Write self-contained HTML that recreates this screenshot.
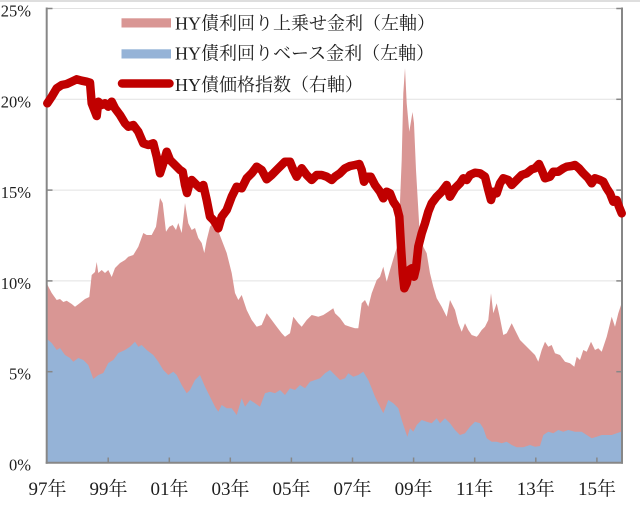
<!DOCTYPE html>
<html>
<head>
<meta charset="utf-8">
<style>
html,body{margin:0;padding:0;background:#fff;}
svg{display:block;}
.lbl{font-family:"Liberation Serif","Noto Serif CJK SC",serif;fill:#1e1e1e;}
</style>
</head>
<body>
<svg width="640" height="507" viewBox="0 0 640 507" xmlns="http://www.w3.org/2000/svg">
<rect x="0" y="0" width="640" height="507" fill="#fff"/>
<line x1="0" y1="1" x2="640" y2="1" stroke="#d4d4d4" stroke-width="1.5"/>
<g stroke="#e2e2e2" stroke-width="1">
<line x1="47" y1="8.5" x2="622" y2="8.5"/>
<line x1="47" y1="99.3" x2="622" y2="99.3"/>
<line x1="47" y1="190.1" x2="622" y2="190.1"/>
<line x1="47" y1="280.9" x2="622" y2="280.9"/>
<line x1="47" y1="371.7" x2="622" y2="371.7"/>
</g>
<polygon fill="#d99694" points="47,462.5 47,284 51.7,293 56.7,300 60,299 63.3,302 66.7,300.7 71.7,304 75,306.7 80,303 85,299 89.3,297 91.7,275 95,272 96.7,262 98.3,273 101.7,270 105,273 108.3,270 111.7,277 115,268 120,263 125,260 128.3,256.7 133.3,255 138.3,246.7 143.3,233 146.7,235 151.7,235 156,226.7 160,198 162.7,203 166,231.7 169.3,226.7 172.7,225 176,230 178.3,223 181.7,233 185,203 188.3,223.3 191.7,230 195,228 198.3,238 201.7,243 204.3,253 206.7,240 210,226.7 213.3,223 216.7,226.7 221.7,240 226.7,253 231.7,273 235,293 238.3,300 241.7,295 246.7,310 251.7,320 256.7,326.7 261.7,325 266.7,313.3 271.7,320 276.7,326.7 281.7,333.3 285,336.7 290,333.3 293.3,316.7 298.3,323.3 301.7,326.7 306.7,320 311.7,315 318.3,316.7 323.3,315 328.3,311.7 333.3,308.3 335,313.3 340,318 345,325 350,326.7 355,328.3 358.3,328.3 361.7,303.3 365,300 368.3,306.7 371.7,293.3 376.7,280 380,276.7 383.3,266.7 386.7,281.7 390,270 395,253.3 398.3,243.3 401.7,160 403.3,93.3 405,68 406.7,103.3 409.3,131.7 412.5,112 414,123.3 416,170 419.3,226.7 423.3,246.7 426.7,253.3 430,273.3 433.3,286.7 436.7,298.3 441.7,306.7 446.7,316.7 450,300 455,310 458.3,323.3 461.7,331.7 465,323.3 468.3,330 471.7,335 476.7,336.7 478.3,335 481.7,330 485,326.7 488.3,320 491,293.3 493.3,313.3 496.7,303.3 500,318.3 503.3,335 506.7,333.3 511.7,323.3 515,330 520,340 525,345 530,350 535,355 538.3,361.7 541.7,350 545,341.7 548.3,346.7 551.7,345 555,353.3 560,355 565,361.7 570,363.3 574.3,366.7 576.7,356.7 580,360 583.3,350 586.7,351.7 591,341.7 595,350 598.3,348.3 601.7,351.7 606.7,336.7 611.7,316.7 615,326.7 618.3,313.3 621,305 622,303 622,462.5"/>
<polygon fill="#95b3d7" points="47,462.5 47,339 51.7,343 56.7,350 60,348 65,355 70,358 73.3,361.7 78.3,358 83.3,360 88.3,365 93.3,379 98.3,375 103.3,373 108.3,363 113.3,360 118.3,353 125,350 130,346.7 135,341.7 138.3,346.7 141.7,345 146.7,350 153.3,355 158.3,361.7 163.3,370 168.3,375 173.3,371.7 176.7,375 181.7,385 186.7,393.3 190,390 195,380 200,375 205,386.7 210,396.7 215,406.7 218.3,411.7 221.7,405 226.7,408.3 231.7,408.3 236.7,415 241.7,398.3 245,406.7 250,400 255,403.3 260,406.7 265,393.3 270,391.7 275,393.3 280,390 285,395 290,388.3 295,390 300,385 305,388.3 310,381.7 315,380 320,378.3 325,373.3 330,370 335,375 340,380 345,378.3 348.3,373.3 353.3,376.7 358.3,375 363.3,371.7 368.3,380 371.7,388.3 375,396.7 380,406.7 383.3,413.3 388.3,400 393.3,403.3 398.3,408.3 401.7,420 405,430 407.3,436.7 410,428.3 413.3,431.7 416.7,425 421.7,420 426.7,421.7 431.7,423.3 436.7,418.3 440,423.3 445,418.3 450,423.3 455,430 460,435 465,433.3 470,426.7 475,421.7 480,423.3 483.3,428.3 486.7,438.3 491.7,441.7 496.7,441.7 501.7,443.3 506.7,441.7 511.7,445 516.7,447.3 523.3,447.3 530,445 535,446.7 540,446 543.3,435 548.3,431.7 553.3,433.3 558.3,430 563.3,431.7 568.3,430 575,431.7 581.7,431.7 586.7,435 591.7,438.3 596.7,436.7 601.7,435 606.7,435 611.7,435 616.7,433.3 621,431.7 622,431 622,462.5"/>
<g stroke="#878787" stroke-width="2" fill="none">
<line x1="46.7" y1="7.5" x2="46.7" y2="463.8"/>
<line x1="622" y1="7.5" x2="622" y2="463.8"/>
<line x1="45.7" y1="462.8" x2="623" y2="462.8"/>
</g>
<g stroke="#878787" stroke-width="1.5">
<line x1="46.7" y1="8.5" x2="52.5" y2="8.5"/>
<line x1="46.7" y1="99.3" x2="52.5" y2="99.3"/>
<line x1="46.7" y1="190.1" x2="52.5" y2="190.1"/>
<line x1="46.7" y1="280.9" x2="52.5" y2="280.9"/>
<line x1="46.7" y1="371.7" x2="52.5" y2="371.7"/>
<line x1="616.3" y1="8.5" x2="622" y2="8.5"/>
<line x1="616.3" y1="99.3" x2="622" y2="99.3"/>
<line x1="616.3" y1="190.1" x2="622" y2="190.1"/>
<line x1="616.3" y1="280.9" x2="622" y2="280.9"/>
<line x1="616.3" y1="371.7" x2="622" y2="371.7"/>
<line x1="108.2" y1="457.5" x2="108.2" y2="462.8"/>
<line x1="169.3" y1="457.5" x2="169.3" y2="462.8"/>
<line x1="230.3" y1="457.5" x2="230.3" y2="462.8"/>
<line x1="291.4" y1="457.5" x2="291.4" y2="462.8"/>
<line x1="352.5" y1="457.5" x2="352.5" y2="462.8"/>
<line x1="413.6" y1="457.5" x2="413.6" y2="462.8"/>
<line x1="474.7" y1="457.5" x2="474.7" y2="462.8"/>
<line x1="535.8" y1="457.5" x2="535.8" y2="462.8"/>
<line x1="596.9" y1="457.5" x2="596.9" y2="462.8"/>
</g>
<polyline fill="none" stroke="#c00000" stroke-width="8.5" stroke-linejoin="round" stroke-linecap="round" points="47.3,103.3 51.7,96.7 56.7,88.3 61.7,85 66.7,84 71.7,81.7 76.7,79.3 81.7,80.7 86.7,81.7 90,82.7 91.7,103.3 95,111.7 96.7,116 98.3,101.7 101.7,105 105,103.3 108.3,106.7 111.7,101.7 115,108.3 120,115 125,123.3 128.3,126.7 133.3,125 138.3,131.7 143.3,143.3 148.3,145 153.3,143.3 156.7,156.7 160,173.3 163.3,163.3 166.7,151.7 170,160 175,165 180,170 182.7,171.7 185,185 187,193 190,181.7 191.7,180 196.7,185 200,188 203.3,185 206.7,200 210,216.7 213.3,220 216.7,225 218.3,228.3 221.7,216.7 226.7,210 231.7,196.7 236.7,186.7 241.7,188.3 246.7,178.3 251.7,173.3 256.7,166.7 261.7,170 266.7,179.3 271.7,175 278.3,168.3 285,161.7 290,161.7 293.3,170 296.7,176.7 301.7,168.3 306.7,175 311.7,180 316.7,175 321.7,175 326.7,176.7 331.7,180 335,176.7 340,173.3 345,168.3 350,166 355,165 359.3,164 361.7,170 364,181.7 366.7,176.7 370.7,176.7 375,185 380,191.7 383.3,198.3 386.7,191.7 390,193.3 393.3,201.7 396.7,206.7 399.3,216.7 401,246.7 402.7,273.3 404.3,288.3 406.7,283.3 409.3,270 411.7,268.3 414,276.7 416,268.3 418.3,246.7 421.7,233.3 425,223.3 428.3,211.7 431.7,203.3 436.7,196.7 441.7,191.7 446.7,185 450,196.7 455,188.3 460,183.3 463.3,178.3 466.7,180 470,175 475,172.7 480,173.3 485,176.7 488.3,190 491,200 493.3,191.7 496.7,193.3 500,183.3 503.3,178.3 508.3,180 511.7,185 516.7,180 521.7,175 526.7,173.3 531.7,169.3 535,168.3 539,164 541.7,170 545,178.3 550,176.7 553.3,171.7 558.3,171.7 563.3,168.3 566.7,166.7 571.7,166 575,165 579,168.3 583.3,173.3 588.3,178.3 591.7,183.3 595,178.3 600,180 603.3,181.7 606.7,188.3 610,193.3 613.3,201.7 616.7,200 619,206.7 621.7,213.3"/>
<rect x="121.5" y="18.3" width="49.5" height="9.2" fill="#d99694"/>
<rect x="121.5" y="49.3" width="49.5" height="9.2" fill="#95b3d7"/>
<line x1="122" y1="83.5" x2="169.5" y2="83.5" stroke="#c00000" stroke-width="8.5" stroke-linecap="round"/>
<text class="lbl" x="175" y="29.5" font-size="18">HY債利回り上乗せ金利（左軸）</text>
<text class="lbl" x="175" y="59.5" font-size="18">HY債利回りベース金利（左軸）</text>
<text class="lbl" x="175" y="91" font-size="18">HY債価格指数（右軸）</text>
<g class="lbl" font-size="16.5" text-anchor="end">
<text x="31" y="16.5">25%</text>
<text x="31" y="107.3">20%</text>
<text x="31" y="198.1">15%</text>
<text x="31" y="288.9">10%</text>
<text x="31" y="379.7">5%</text>
<text x="31" y="470.5">0%</text>
</g>
<g class="lbl" font-size="19" text-anchor="middle">
<text x="47.5" y="495">97年</text>
<text x="108.5" y="495">99年</text>
<text x="169.5" y="495">01年</text>
<text x="230.5" y="495">03年</text>
<text x="291.5" y="495">05年</text>
<text x="352.5" y="495">07年</text>
<text x="413.6" y="495">09年</text>
<text x="474.7" y="495">11年</text>
<text x="535.8" y="495">13年</text>
<text x="597" y="495">15年</text>
</g>
</svg>
</body>
</html>
